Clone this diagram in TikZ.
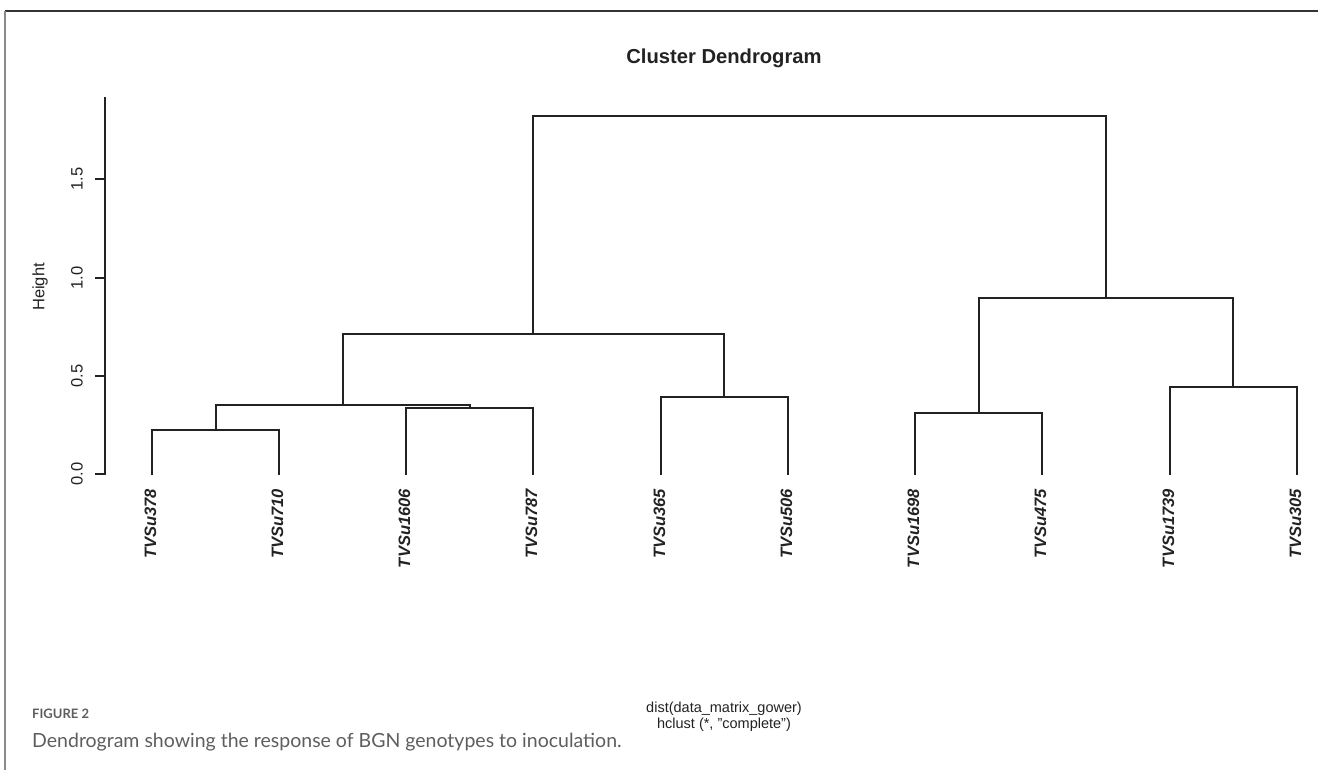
\documentclass[tikz,border=0pt]{standalone}
\usepackage{fontspec}
\setmainfont{Liberation Sans}
\newfontfamily\capfont{Lato}
\definecolor{ink}{HTML}{222222}
\definecolor{capgray}{HTML}{5E5E5E}
\definecolor{framegray}{HTML}{8A8A8A}
\definecolor{frametop}{HTML}{333333}
\begin{document}
\begin{tikzpicture}[x=1pt,y=-1pt,
  branch/.style={draw=ink,line width=2pt},
  axisline/.style={draw=ink,line width=2pt},
  leaflab/.style={rotate=90,anchor=east,inner sep=0pt,font=\fontsize{16.5}{16.5}\selectfont\bfseries\itshape,text=ink},
  ticklab/.style={rotate=90,anchor=center,inner sep=0pt,font=\fontsize{16.5}{16.5}\selectfont,text=ink},
  plottext/.style={inner sep=0pt,text=ink},
  captext/.style={inner sep=0pt,anchor=base west,text=capgray}]
\useasboundingbox (0,0) rectangle (1318,770);
% frame
\draw[frametop,line width=2pt] (5,11) -- (1318,11);
\draw[framegray,line width=2pt] (5,11) -- (5,770);
% title
\node[plottext,anchor=base,font=\fontsize{20.2}{20.2}\selectfont\bfseries] (title) at (724,64) {Cluster Dendrogram};
% y axis
\coordinate (ytop) at (105,97);
\coordinate (ybot) at (105,475);
\draw[axisline] (ytop) -- (ybot);
\foreach \k/\v/\yy in {0/0.0/474,1/0.5/376,2/1.0/278,3/1.5/179}{
  \coordinate (tick\k) at (105,\yy);
  \coordinate (tickend\k) at (95,\yy);
  \draw[axisline] (tick\k) -- (tickend\k);
  \node[ticklab] (ticklab\k) at (77,\yy) {\v};
}
\node[ticklab] (ylab) at (40,287) {Height};
% leaves
\foreach \i/\x/\name in {1/152/TVSu378,2/279/TVSu710,3/406/TVSu1606,4/533/TVSu787,5/661/TVSu365,6/788/TVSu506,7/915/TVSu1698,8/1042/TVSu475,9/1170/TVSu1739,10/1297/TVSu305}{
  \coordinate (L\i) at (\x,475);
  \node[leaflab] (N\i) at (\x-1.5,489) {\name};
}
% merge points
\coordinate (a) at (216,430);
\coordinate (b) at (470,408);
\coordinate (c) at (343,405);
\coordinate (d) at (724,397);
\coordinate (e) at (533,334);
\coordinate (f) at (979,413);
\coordinate (g) at (1233,387);
\coordinate (h) at (1106,298);
\coordinate (r) at (820,116);
% branches
\draw[branch] (L1) |- (a) -| (L2);
\draw[branch] (L3) |- (b) -| (L4);
\draw[branch] (a) |- (c) -| (b);
\draw[branch] (L5) |- (d) -| (L6);
\draw[branch] (c) |- (e) -| (d);
\draw[branch] (L7) |- (f) -| (L8);
\draw[branch] (L9) |- (g) -| (L10);
\draw[branch] (f) |- (h) -| (g);
\draw[branch] (e) |- (r) -| (h);
% x label
\node[plottext,anchor=base,font=\fontsize{14.5}{14.5}\selectfont] (xl1) at (724,712) {dist(data\_matrix\_gower)};
\node[plottext,anchor=base,font=\fontsize{14.5}{14.5}\selectfont] (xl2) at (724,728) {hclust (*, "complete")};
% caption
\node[captext,font=\capfont\fontsize{13}{13}\selectfont\bfseries] (fig) at (32,718.5) {FIGURE 2};
\node[captext,font=\capfont\fontsize{19.5}{19.5}\selectfont] (cap) at (32,747.5) {Dendrogram showing the response of BGN genotypes to inoculation.};
\end{tikzpicture}
\end{document}
